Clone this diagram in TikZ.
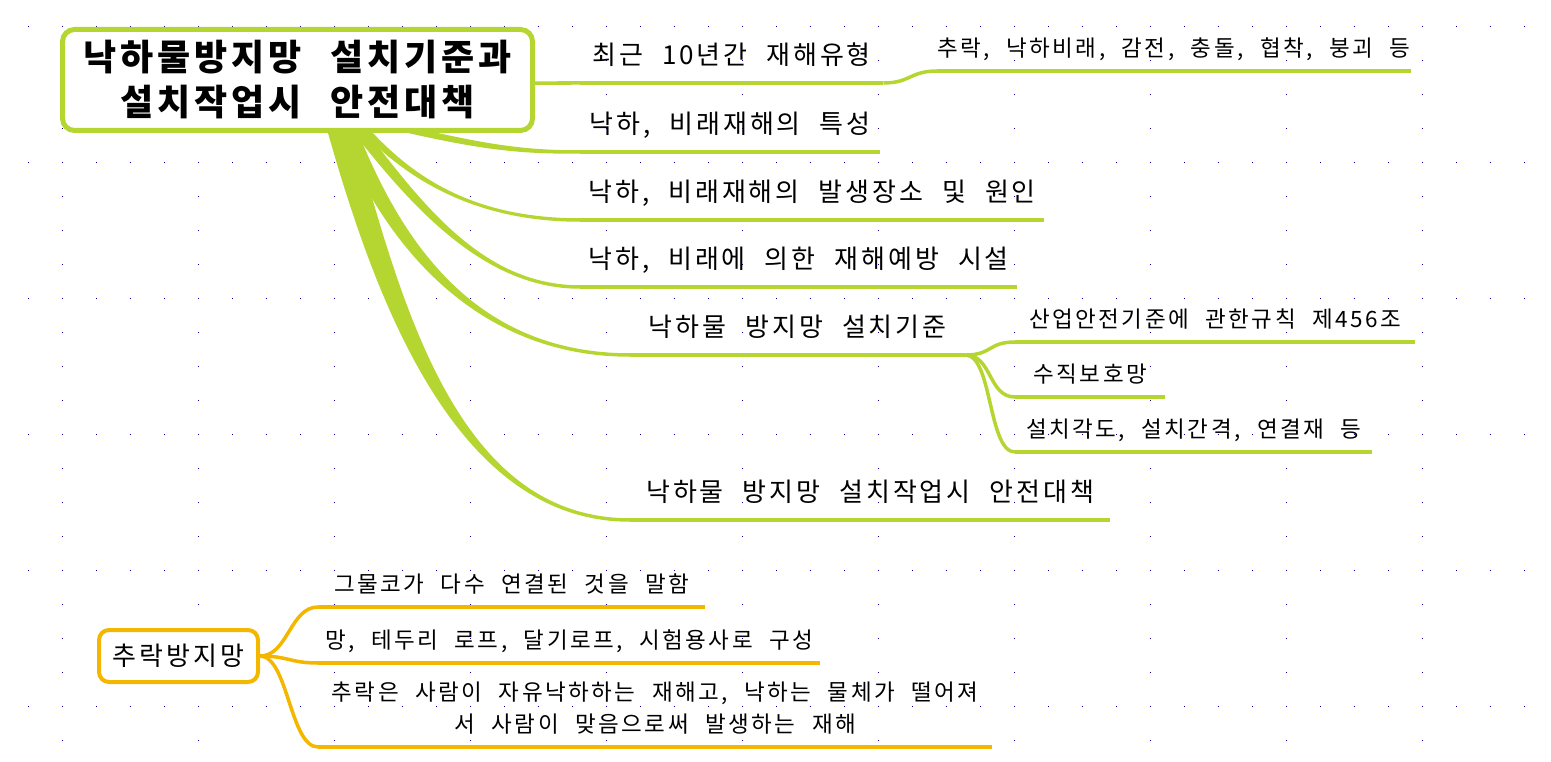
\documentclass[tikz,border=0pt]{standalone}
\usepackage{fontspec}
\setmainfont{Noto Sans CJK KR}[WordSpace=2.2,LetterSpace=11]
\usetikzlibrary{calc,positioning}
\pgfdeclarelayer{background}
\pgfsetlayers{background,main}
\definecolor{branchgreen}{RGB}{181,214,48}
\definecolor{branchorange}{RGB}{244,183,0}
\definecolor{griddot}{RGB}{0,0,160}

\begin{document}
\begin{tikzpicture}[
x=1pt,y=-1pt,
central/.style={
	draw=branchgreen,
	line width=5pt,
	rounded corners=12pt,
	fill=white,
	align=center,
	minimum width=470pt,
	minimum height=101pt,
	font=\fontsize{36}{45}\selectfont\bfseries
},
subject/.style={
	draw=branchorange,
	line width=4pt,
	rounded corners=10pt,
	fill=white,
	minimum width=159pt,
	minimum height=52pt,
	font=\fontsize{26}{32}\selectfont
},
topic/.style={
	anchor=south west,
	inner sep=0pt,
	text depth=18pt,
	font=\fontsize{26}{32}\selectfont
},
subtopic/.style={
	topic,
	text depth=14pt,
	font=\fontsize{22.5}{32}\selectfont
},
underline/.style={
	line width=3.5pt
},
link/.style={
	line width=3.5pt
}
]
\useasboundingbox (0,0) rectangle (1551,762);

% main topic and its branches
\node[central] (main) at (297.5,80) {낙하물방지망\hspace{0.8em}설치기준과\\설치작업시\hspace{0.8em}안전대책};

\node[topic,minimum width=303pt] (c1) at (580,83) {최근 10년간 재해유형};
\node[topic,minimum width=300pt] (c2) at (580,152) {낙하, 비래재해의 특성};
\node[topic,minimum width=464pt] (c3) at (580,220) {낙하, 비래재해의 발생장소 및 원인};
\node[topic,minimum width=437pt] (c4) at (580,287) {낙하, 비래에 의한 재해예방 시설};
\node[topic,minimum width=335pt] (c5) at (630,355) {낙하물 방지망 설치기준};
\node[topic,minimum width=480pt] (c6) at (630,520) {낙하물 방지망 설치작업시 안전대책};

\node[subtopic,minimum width=471pt] (g1) at (937,71) {추락, 낙하비래, 감전, 충돌, 협착, 붕괴 등};
\node[subtopic,minimum width=400pt] (g51) at (1015,342) {산업안전기준에 관한규칙 제456조};
\node[subtopic,minimum width=150pt] (g52) at (1015,397) {수직보호망};
\node[subtopic,minimum width=357pt] (g53) at (1015,452) {설치각도, 설치간격, 연결재 등};

% second map
\node[subject] (fall) at (178.5,656) {추락방지망};
\node[subtopic,minimum width=387pt] (h1) at (318,607) {그물코가 다수 연결된 것을 말함};
\node[subtopic,minimum width=502pt] (h2) at (318,663) {망, 테두리 로프, 달기로프, 시험용사로 구성};
\node[subtopic,minimum width=674pt,align=center] (h3) at (318,747) {추락은 사람이 자유낙하하는 재해고, 낙하는 물체가 떨어져\\서 사람이 맞음으로써 발생하는 재해};

\begin{pgfonlayer}{background}
% dotted grid
\foreach \r in {0,...,5}
\foreach \i in {0,...,44}
\fill[griddot] (28+34*\i,26+136*\r) rectangle +(1.3,1.3);
\foreach \k in {0,...,10}
\foreach \j in {0,...,21}
\fill[griddot] (62+136*\k,26+34*\j) rectangle +(1.3,1.3);

% tapered branches
\foreach \t/\sx/\sy/\ox/\oy/\ax/\ay/\bx in {
	c1/102.5/4/0/-2.5/150/0/-150,
	c2/62.5/38/0/-3.5/120/30/-60,
	c3/54.5/35/5/0/50/60/-110,
	c4/49.5/35/7/0/65/85/-100,
	c5/44.5/35/9.5/0/50/135/-150,
	c6/38.5/35/13/0/51/185/-175}
\fill[branchgreen] ($(main.center)+(\sx,\sy)-(\ox,\oy)$) .. controls +(\ax,\ay) and +(\bx,0) .. ($(\t.south west)+(0,1.75)$)
	-- ($(\t.south west)+(0,-1.75)$) .. controls +(\bx,0) and +(\ax,\ay) .. ($(main.center)+(\sx,\sy)+(\ox,\oy)$) -- cycle;
\end{pgfonlayer}

\foreach \t in {c1,c2,c3,c4,c5,c6,g1,g51,g52,g53}
\draw[underline,branchgreen] (\t.south west) -- (\t.south east);
\foreach \t in {h1,h2,h3}
\draw[underline,branchorange] (\t.south west) -- (\t.south east);

\draw[link,branchgreen] (c1.south east) .. controls +(27,0) and +(-27,0) .. (g1.south west);
\foreach \t in {g51,g52,g53}
\draw[link,branchgreen] (c5.south east) .. controls +(27,0) and +(-27,0) .. (\t.south west);
\foreach \t in {h1,h2,h3}
\draw[link,branchorange] (fall.east) .. controls +(28,0) and +(-28,0) .. (\t.south west);
\end{tikzpicture}
\end{document}
